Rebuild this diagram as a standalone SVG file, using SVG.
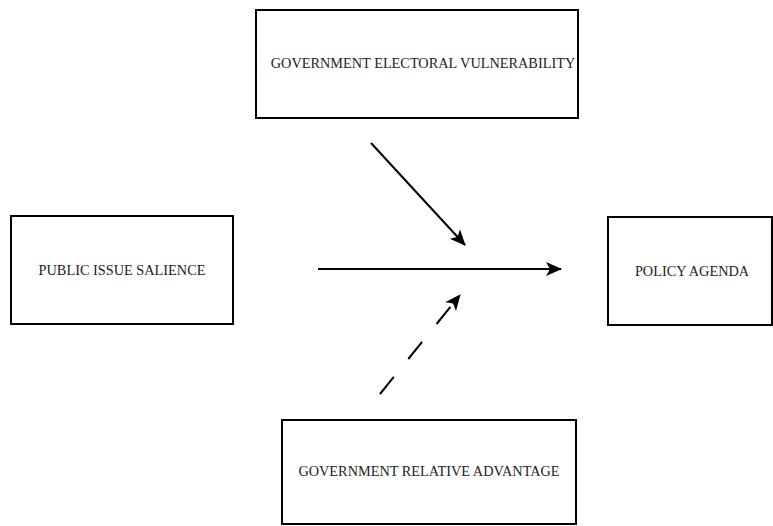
<svg xmlns="http://www.w3.org/2000/svg" width="773" height="526" viewBox="0 0 773 526">
<style>
.box{fill:#fff;stroke:#000;stroke-width:2}
.lbl{font-family:"Liberation Serif","Times New Roman",serif;font-size:14.3px;fill:#222;text-anchor:middle}
.conn{stroke:#000;stroke-width:2;fill:none}
</style>
<defs>
<marker id="ah" viewBox="0 0 16 16" refX="15" refY="8" markerWidth="16" markerHeight="16" markerUnits="userSpaceOnUse" orient="auto">
<path d="M0,1 L16,8 L0,15 L4,8 Z" fill="#000"/>
</marker>
</defs>
<rect width="773" height="526" fill="#fff"/>
<g id="vulnerability"><rect class="box" x="256" y="10" width="322" height="108"/><text class="lbl" font-family="Liberation Serif, serif" x="423" y="68">GOVERNMENT ELECTORAL VULNERABILITY</text></g>
<g id="salience"><rect class="box" x="11" y="216" width="222" height="108"/><text class="lbl" font-family="Liberation Serif, serif" x="122" y="275">PUBLIC ISSUE SALIENCE</text></g>
<g id="agenda"><rect class="box" x="608" y="217" width="164" height="108"/><text class="lbl" font-family="Liberation Serif, serif" x="692" y="276">POLICY AGENDA</text></g>
<g id="advantage"><rect class="box" x="282" y="420" width="294" height="104"/><text class="lbl" font-family="Liberation Serif, serif" x="429" y="476">GOVERNMENT RELATIVE ADVANTAGE</text></g>
<g id="connectors">
<line class="conn" x1="371" y1="143" x2="465" y2="245" marker-end="url(#ah)"/>
<line class="conn" x1="318" y1="269" x2="561" y2="269" marker-end="url(#ah)"/>
<line class="conn" x1="380" y1="394" x2="460" y2="295" stroke-dasharray="22,23" marker-end="url(#ah)"/>
</g>
</svg>
